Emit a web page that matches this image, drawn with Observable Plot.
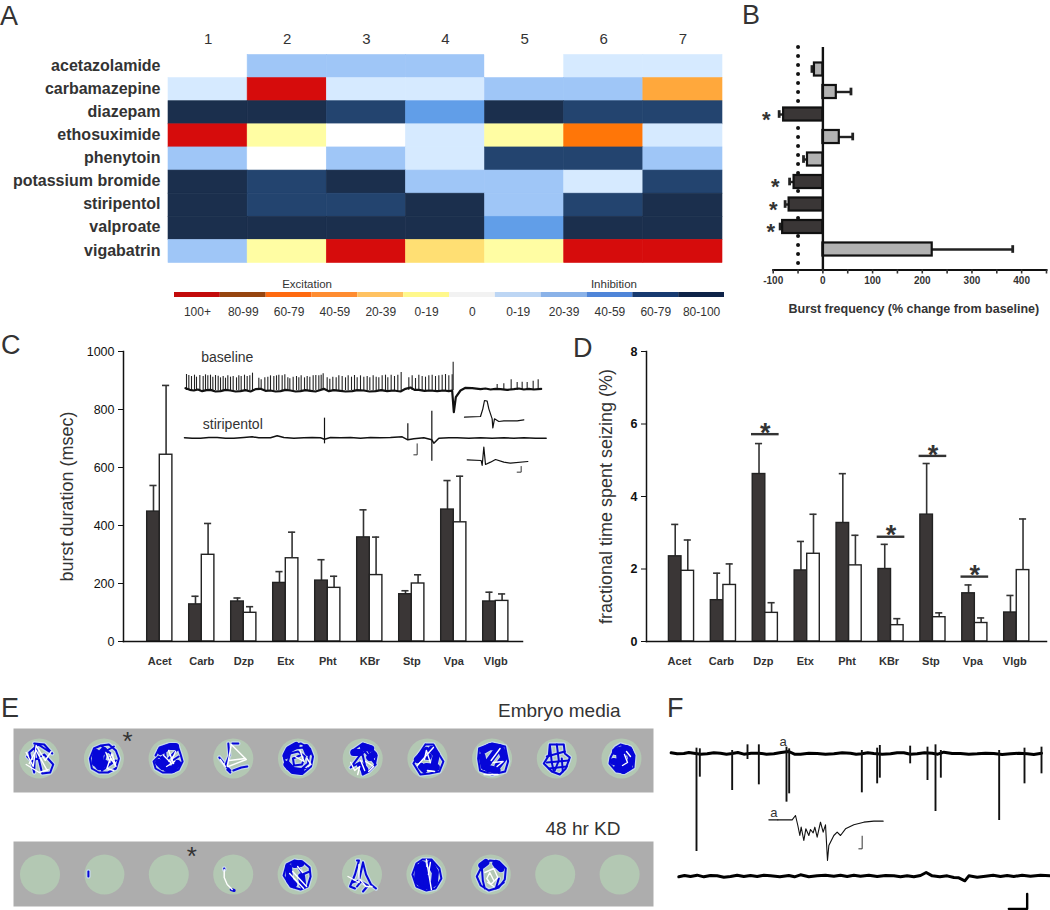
<!DOCTYPE html>
<html><head><meta charset="utf-8">
<script src="https://cdn.jsdelivr.net/npm/d3@7"></script>
<script src="https://cdn.jsdelivr.net/npm/@observablehq/plot@0.6"></script>
<style>
html,body{margin:0;padding:0;background:#fff}
#page{position:relative;width:1050px;height:910px;overflow:hidden;font-family:"Liberation Sans",Arial,sans-serif}
#page svg{position:absolute;max-width:none;background:transparent;overflow:visible}
.letter{position:absolute;font-size:27px;line-height:1;color:#333}
</style></head>
<body><div id="page"></div>
<script>
// ---------- Panel A
const drugs = ["acetazolamide","carbamazepine","diazepam","ethosuximide","phenytoin","potassium bromide","stiripentol","valproate","vigabatrin"];
const columns = [1,2,3,4,5,6,7];
const effectRows = [
 ["0","I20","I20","I20","0","I0","I0"],
 ["I0","E100","I0","I0","I20","I20","E40"],
 ["I80","I80","I60","I40","I80","I60","I60"],
 ["E100","E0","0","I0","E0","E60","I0"],
 ["I20","0","I20","I0","I60","I60","I20"],
 ["I80","I60","I80","I20","I20","I0","I60"],
 ["I80","I60","I60","I80","I20","I60","I80"],
 ["I80","I80","I80","I80","I40","I80","I80"],
 ["I20","E0","E100","E20","E0","E100","E100"]
];
const effectKeys = ["E100","E60","E40","E20","E0","0","I0","I20","I40","I60","I80"];
const effectColors = ["#d60c0c","#ff7608","#ffa83c","#ffdf73","#fffda3","#ffffff","#d6eaff","#9fc6f7","#619ee8","#23446f","#1b2f4d"];
const legendLabels = ["100+","80-99","60-79","40-59","20-39","0-19","0","0-19","20-39","40-59","60-79","80-100"];
const legendColors = ["#c30a0a","#96450f","#ff6a10","#ff8c30","#ffc262","#fff88c","#f2f2f2","#bdd6f4","#8ab2e8","#4f85d8","#173a70","#0e2348"];
// ---------- Panel B
const bRows = drugs;
const bValues = [-17,27,-79,33,-31,-58,-68,-81,220];
const bErrors = [-22,56.5,-88,60,-39,-67,-76,-86,382];
const bSignificant = [false,false,true,false,false,true,true,true,false];
const bStars = [[2,-114],[5,-96],[6,-100],[7,-105]];
// ---------- Panels C, D
const groups = ["Acet","Carb","Dzp","Etx","Pht","KBr","Stp","Vpa","Vlgb"];
const cDark = [448,128,138,202,210,359,163,455,138];
const cDarkErr = [538,156,150,241,282,454,175,555,170];
const cWhite = [644,299,99,287,185,229,200,411,140];
const cWhiteErr = [883,407,120,377,225,360,230,570,164];
const dDark = [2.35,1.14,4.62,1.96,3.27,2.0,3.5,1.33,0.8];
const dDarkErr = [3.23,1.885,5.46,2.76,4.63,2.68,4.91,1.56,1.27];
const dWhite = [1.95,1.56,0.79,2.42,2.10,0.45,0.67,0.51,1.97];
const dWhiteErr = [2.80,2.14,1.07,3.51,2.93,0.63,0.79,0.65,3.38];
const dSig = [[2,5.72],[5,2.89],[6,5.12],[7,1.79]];
// ---------- EEG-like traces (in its trace units)
const cBaseline = "45,143 58,148 70,150 82,147 95,152 108,149 120,148 135,153 150,152 165,148 180,150 195,153 210,152 225,149 240,153 255,146 270,145 285,151 300,150 315,153 330,152 345,148 360,150 375,153 390,152 405,149 420,151 435,153 445,150 460,145 475,152 490,149 510,151 525,153 545,152 560,149 580,150 597,153 615,152 632,149 650,152 670,150 690,153 705,145 720,141 732,148 745,148 762,151 780,150 800,152 820,150 835,152 845,150 850,215 856,170 870,150 885,142 905,143 930,146 945,144 960,147 975,145 990,146 1010,148 1030,146 1045,144 1060,147 1075,145 1090,147 1112,145";
const cSpikes = "48,102 55,105 63,108 72,104 78,110 88,105 98,108 105,103 112,106 120,104 127,110 135,105 143,107 150,112 158,108 165,113 172,106 180,110 188,108 198,112 205,106 212,108 222,104 230,108 238,106 246,98 265,113 272,118 283,112 292,110 300,106 310,108 318,106 325,104 335,106 343,103 352,112 358,115 368,110 378,108 385,112 392,106 402,112 410,108 418,110 428,106 436,105 445,106 452,104 458,100 470,112 478,116 487,110 497,112 505,106 515,108 525,112 533,106 543,110 552,105 560,112 570,106 580,110 590,108 598,112 608,106 617,110 625,112 635,106 645,104 652,112 662,104 672,108 682,104 692,96 715,112 725,106 735,114 745,104 755,108 765,110 775,106 785,104 795,108 805,106 815,104 825,102 835,106 845,103 848,65 980,132 1000,130 1022,118 1040,126 1055,125 1070,126 1088,122 1103,118";
const cStiripentol = "42,292 65,293 90,293 115,291 140,291 165,293 190,293 220,291 245,289 265,292 300,292 320,286 340,291 370,293 400,292 425,291 450,292 462,296 480,291 510,292 540,291 570,293 600,291 630,292 660,291 695,289 712,298 730,295 760,292 784,298 790,308 805,293 835,292 860,292 895,293 930,292 965,293 1000,292 1030,293 1060,292 1095,293 1127,293";
const cStiriSpikes = [[462,233,310],[712,250,300],[784,212,362]];
const cInset1 = "882,230 930,228 937,205 942,180 950,182 955,205 965,235 967,262 972,235 985,243 1000,241 1040,241 1060,238";
const cInset2 = "890,358 932,360 935,375 940,320 945,372 960,365 975,357 1000,365 1020,368 1072,363";
const cScale1 = "740,310 740,343 730,343";
const cScale2 = "1052,378 1052,395 1040,395";
const fTop = "32,202 50,205 70,204 85,201 100,203 120,206 140,205 160,202 180,203 198,206 215,204 232,201 250,206 272,203 295,203 318,206 340,205 362,201 385,198 402,206 420,206 445,203 470,204 495,206 520,205 545,202 570,203 587,206 604,205 622,202 640,204 665,206 690,205 710,202 730,202 750,206 770,205 792,202 815,203 832,206 850,200 875,204 900,204 925,206 950,205 975,203 1000,204 1025,207 1050,205 1075,203 1100,205 1120,207 1143,203";
const fSpikes = [[108,188,498],[118,190,275],[215,195,315],[261,178,222],[295,178,298],[378,185,350],[386,190,325],[604,195,322],[650,188,295],[658,180,278],[749,182,235],[801,185,285],[825,178,378],[841,195,278],[1016,195,405],[1092,188,295],[1143,185,265]];
const fInset = "352,403 395,403 405,390 412,420 418,450 422,425 430,465 436,430 445,450 450,432 458,442 463,425 470,455 480,410 488,440 495,418 501,525 505,480 520,450 530,440 540,450 555,430 580,418 610,410 640,407 668,407";
const fInsetLead = "325,403 352,403";
const fScaleSmall = "605,452 605,490 595,490";
const fBottom = "55,574 72,570 90,573 110,569 130,574 150,570 170,571 190,575 210,573 230,569 250,573 270,570 290,573 310,569 330,571 358,574 385,570 402,574 420,568 445,574 470,571 495,569 520,572 540,569 560,573 580,569 600,572 625,569 650,573 675,570 700,571 720,574 740,571 760,574 780,570 797,561 815,571 838,574 860,571 880,576 895,577 913,586 925,571 950,575 975,572 998,569 1020,573 1040,570 1060,573 1085,569 1110,572 1140,569 1170,571";
const fScaleBig = "1100,625 1100,670 1045,670";
// ---------- Panel E: tracks relative to each well centre
const wellsTop = [
 [1,"blue","-5,-15 5,-14 13,-5 -1,-14 -10,-6 -5,14 -4,-14 3,15 11,14 14,6 5,-4 -7,3 -12,-2"],
 [1,"white","-13,-6 -6,8 -3,-13 6,2 12,-7"],[1,"white","-10,5 -3,-8 8,12"],[1,"white","-13,6 0,14 9,11"],
 [2,"solid","-8,-6 -9,4 -3,8 -4,-4 0,-8"],[2,"solid","-5,8 1,5"],
 [2,"blue","-3,-13 5,-14 12,-8 15,0 12,10 4,14 -5,14 -12,10 -14,0 -10,-10 -3,-13 8,-4 3,6 12,2 -2,12 3,-8 10,-12"],
 [2,"white","6,-2 12,8 8,-5 3,10 10,12"],[2,"white","2,-6 6,4"],
 [3,"solid","-8,-7 -3,-10"],[3,"solid","-10,4 -6,8"],[3,"solid","2,-12 7,-12"],[3,"solid","9,5 4,11 -2,10"],[3,"solid","-5,0 -3,6"],
 [3,"blue","-13,-3 -9,-11 0,-14 9,-13 12,-4 14,3 10,11 3,14 -6,14 -13,10 -15,3 -10,-2 -3,3 5,-5 9,-9 -4,-12 -2,6 10,-2"],
 [3,"white","-5,-3 2,4 7,-7"],[3,"white","0,-8 5,5"],[3,"white","-2,8 6,3"],
 [4,"blue","-5,-15 -4,-3 -8,7 -3,12"],[4,"blue","-1,-15 5,-15"],[4,"blue","-14,-1 -10,4"],[4,"blue","-6,11 -3,14"],[4,"blue","0,12 8,9 14,8"],
 [4,"white","-2,-14 -6,8"],[4,"white","-2,-14 13,1 -5,8"],[4,"white","-4,2 12,0"],[4,"white","-13,1 -8,8"],
 [5,"solid","-12,-3 -9,-9 -2,-13"],[5,"solid","-11,6 -5,12 3,13"],[5,"solid","8,-11 10,-6"],
 [5,"blue","-12,-5 -6,-13 3,-15 12,-10 15,-2 13,8 6,14 -3,14 -11,10 -14,0 -12,-7 -4,-10 6,-11 11,-5 10,5 3,11 -5,10 -10,3 -8,-5 0,-7 7,-2 4,6 -4,7 -5,0 2,-3"],
 [5,"blue","-13,3 -8,11 0,12 9,9"],
 [5,"white","-3,-2 6,3 2,-8"],[5,"white","9,0 13,6 8,9"],
 [6,"solid","1,-12 8,-10"],[6,"solid","-9,-6 -3,-6"],[6,"solid","7,-1 11,-4"],[6,"solid","-2,7 2,11"],
 [6,"blue","-10,-8 0,-15 8,-12 14,-3 12,7 6,13 0,16 -3,4 -12,9 -3,-3 5,-9 13,6 -2,-12 4,14"],
 [6,"white","-12,4 -8,12 -3,8 -5,16"],[6,"white","3,3 11,8 6,13"],[6,"white","-2,2 2,12"],
 [7,"solid","-10,1 -1,-8"],[7,"solid","4,-9 9,-4 7,5"],[7,"solid","-1,8 9,9"],[7,"solid","-6,-3 1,-2"],[7,"solid","-6,8 -3,11"],
 [7,"blue","-2,-14 6,-14 11,-5 16,3 12,13 2,15 -7,16 -14,5 -8,-5 -2,-14"],
 [7,"white","-10,7 6,-11"],[7,"white","-3,1 -1,-8 3,4"],[7,"white","0,12 7,13"],
 [8,"solid","-9,-8 -2,-12 7,-11 -4,4 -8,8 -10,-2"],[8,"solid","6,7 12,-1 9,-9"],[8,"solid","-4,10 5,12"],
 [8,"blue","-13,-10 0,-15 13,-12 16,3 13,13 0,16 -12,12 -14,0 -13,-10"],
 [8,"white","-1,2 8,-10"],[8,"white","1,4 11,3 5,8"],[8,"white","-8,16 6,16"],
 [9,"blue","-7,-14 7,-14 8,-5 13,-1 9,10 3,16 -5,13 -13,5 -8,-3 -7,-14 -5,4 -3,13"],[9,"blue","0,-14 2,2 -2,12"],[9,"blue","8,-7 -10,-2"],[9,"blue","-10,4 12,2"],[9,"blue","5,0 6,13"],[9,"blue","-8,10 10,8"],
 [10,"solid","-6,-7 5,-10 -3,4 -8,3"],[10,"solid","-4,9 2,12 7,9"],[10,"solid","-2,-5 -1,5"],[10,"solid","8,-8 10,0 8,6"],[10,"solid","2,0 4,8"],
 [10,"blue","-1,-14 9,-11 13,-3 12,9 3,14 -5,13 -12,5 -11,-1 -6,-11 -1,-14"],
 [10,"white","3,-4 6,4 1,7"],[10,"white","5,-7 9,-2"]
];
const wellsBottom = [
 [2,"blue","-16,-3 -16,2"],
 [4,"white","-9,-5 -9,3 -6,10 -1,15"],[4,"blue","-9,-6 -9,-5"],[4,"solidthin","-2,15 1,16"],
 [5,"solid","-9,-7 -8,6 -4,10"],[5,"solid","-3,-10 3,-11"],[5,"solid","4,2 5,10"],
 [5,"blue","-3,-14 6,-12 12,-7 13,2 10,12 3,15 -7,12 -14,1 -11,-10 -3,-14 5,0 12,-3"],
 [5,"white","-8,-1 6,14"],[5,"white","-5,-3 9,12"],[5,"white","0,-8 5,-2"],
 [6,"blue","-5,-14 -3,-14 -7,0 -12,12 -7,14"],[6,"blue","1,-12 -3,6 -10,8"],[6,"blue","1,-12 4,0 9,10 14,14"],[6,"blue","-5,12 -1,7 6,11 1,17"],
 [6,"white","-3,-10 -3,8 -14,2"],[6,"white","-2,5 4,12 10,12"],
 [7,"solid","-8,-7 -9,6 -2,12"],[7,"solid","-4,-10 -3,8"],[7,"solid","4,-11 9,-2 8,8 3,12"],[7,"solid","-1,-4 1,10"],
 [7,"blue","-4,-15 5,-15 13,-6 15,4 9,14 0,16 -10,12 -14,0 -10,-11 -4,-15"],
 [7,"white","0,-15 5,15"],[7,"white","4,-12 2,0"],
 [8,"blue","-9,-8 -1,-14 8,-13 15,-6 14,5 8,13 -2,16 -10,11 -14,2 -9,-8 -8,6 -6,14"],[8,"blue","5,-12 12,-4 4,-8"],[8,"blue","8,4 5,14 13,8"],[8,"solid","-9,-9 -5,-12"],[8,"solid","5,-11 10,-6"],
 [8,"white","-6,-2 3,-6 7,3 0,10 -4,4 -1,-2 3,6"],[8,"white","-3,8 3,12"]
];
const chartFont = '"Liberation Sans",Arial,sans-serif';
const ink = "#333";
const page = document.getElementById("page");
const pts = s => s.trim().split(/\s+/).map(p => p.split(",").map(Number));
const poly = (s, o) => Plot.line(pts(s), {x: d => d[0], y: d => d[1], ...o});
function place(svg, left, top) { svg.style.left = left + "px"; svg.style.top = top + "px"; page.appendChild(svg); return svg; }
function letter(t, x, baseline) {
  const e = document.createElement("div"); e.className = "letter"; e.textContent = t;
  e.style.left = x + "px"; e.style.top = (baseline - 22.9) + "px"; page.appendChild(e);
}
const base = {style: {fontFamily: chartFont, background: "transparent", color: ink}};

// Panel A heat map
const cells = drugs.flatMap((d, r) => columns.map((c, j) => ({drug: d, col: c, effect: effectRows[r][j]})));
place(Plot.plot({...base, width: 722, height: 262.5, marginLeft: 168, marginRight: 0, marginTop: 54.5, marginBottom: 0,
  x: {type: "band", domain: columns, padding: 0, round: false, axis: null},
  y: {type: "band", domain: drugs, padding: 0, round: false, axis: null},
  color: {type: "ordinal", domain: effectKeys, range: effectColors},
  marks: [
    Plot.cell(cells, {x: "col", y: "drug", fill: "effect", stroke: "effect", strokeWidth: 0.6, inset: 0}),
    Plot.axisX({anchor: "top", tickSize: 0, tickPadding: 11, fontSize: 15, label: null}),
    Plot.axisY({anchor: "left", tickSize: 0, tickPadding: 8, fontSize: 16, fontWeight: "bold", label: null, dy: -1})
  ]}), 0, 0);

// Panel A colour key
place(Plot.plot({...base, width: 550, height: 50, marginLeft: 0, marginRight: 0, marginTop: 17, marginBottom: 28,
  x: {type: "band", domain: d3.range(12), padding: 0, round: false, axis: null},
  y: {axis: null},
  color: {type: "identity"},
  marks: [
    Plot.cell(legendLabels, {x: (d, i) => i, fill: (d, i) => legendColors[i], inset: 0}),
    Plot.text(legendLabels, {x: (d, i) => i, frameAnchor: "bottom", dy: 18, fontSize: 12, text: d => d}),
    Plot.text(["Excitation"], {x: () => 2, frameAnchor: "top", dy: -13, dx: 18, fontSize: 11.5}),
    Plot.text(["Inhibition"], {x: () => 9, frameAnchor: "top", dy: -13, dx: 4, fontSize: 11.5})
  ]}), 174, 275);

// Panel B
const bData = bRows.map((d, i) => ({i, v: bValues[i], e: bErrors[i], sig: bSignificant[i]}));
place(Plot.plot({...base, width: 310, height: 279.5, marginLeft: 32.7, marginRight: 4, marginTop: 7, marginBottom: 50,
  x: {domain: [-100, 450], axis: null},
  y: {domain: [8.911, -0.978], axis: null},
  marks: [
    Plot.ruleX([-50], {stroke: "#111", strokeWidth: 4, strokeDasharray: "0 9", strokeLinecap: "round"}),
    Plot.ruleY(bData, {y: "i", x1: "v", x2: "e", stroke: "#222", strokeWidth: 2.4}),
    Plot.ruleX(bData, {x: "e", y1: d => d.i - 0.17, y2: d => d.i + 0.17, stroke: "#222", strokeWidth: 2.8}),
    Plot.rectX(bData, {x1: () => 0, x2: "v", y1: d => d.i - 0.29, y2: d => d.i + 0.29, fill: d => d.sig ? "#3a3636" : "#b2b2b2", stroke: "#111", strokeWidth: 2.2}),
    Plot.ruleX([0], {stroke: "#111", strokeWidth: 2.4}),
    Plot.frame({anchor: "bottom", stroke: "#111", strokeWidth: 2}),
    Plot.axisX({ticks: d3.range(-100, 451, 50), tickFormat: d => d % 100 === 0 ? String(d) : "", tickSize: 4, tickPadding: 3, fontSize: 10, fontWeight: "bold", strokeWidth: 1.6, label: null}),
    Plot.text(bStars, {x: d => d[1], y: d => d[0], text: () => "*", fontSize: 22, fontWeight: "bold", dy: 5}),
    Plot.text(["Burst frequency (% change from baseline)"], {frameAnchor: "bottom", dy: 43, dx: 4, fontSize: 12.5, fontWeight: "bold"})
  ]}), 740, 40);

// Grouped bars for C and D
function grouped(o) {
  const half = 0.15;
  const rows = groups.flatMap((g, i) => [
    {i, x1: i - 2 * half, x2: i, mid: i - half, v: o.dark[i], e: o.darkErr[i], fill: "#3a3636"},
    {i, x1: i, x2: i + 2 * half, mid: i + half, v: o.white[i], e: o.whiteErr[i], fill: "#fff"}
  ]);
  return Plot.plot({...base, width: o.width, height: o.height, marginLeft: o.marginLeft, marginRight: 0, marginTop: 11, marginBottom: 30,
    x: {domain: o.xDomain, axis: null},
    y: {domain: o.yDomain, axis: null},
    marks: [
      Plot.ruleX(rows, {x: "mid", y1: "v", y2: "e", stroke: "#333", strokeWidth: 1.6}),
      Plot.ruleY(rows, {y: "e", x1: d => d.mid - 0.085, x2: d => d.mid + 0.085, stroke: "#333", strokeWidth: 1.6}),
      Plot.rectY(rows, {x1: "x1", x2: "x2", y1: () => 0, y2: "v", fill: "fill", stroke: "#222", strokeWidth: 1.4}),
      Plot.frame({anchor: "left", stroke: "#111", strokeWidth: 1.5}),
      Plot.frame({anchor: "bottom", stroke: "#111", strokeWidth: 1.5}),
      Plot.axisY({ticks: o.yTicks, tickFormat: d => String(d), tickSize: 5, tickPadding: 4, fontSize: 12.5, fontWeight: o.tickWeight, label: null, color: "#111"}),
      Plot.text(groups, {x: (d, i) => i, text: d => d, frameAnchor: "bottom", dy: 23, dx: o.labelDx, fontSize: 11, fontWeight: "bold"}),
      Plot.text([o.label], {frameAnchor: "left", textAnchor: "middle", rotate: -90, dx: o.labelX, fontSize: o.labelSize}),
      ...(o.extra || [])
    ]});
}
place(grouped({width: 482, height: 331, marginLeft: 83, xDomain: [-0.864, 8.636], yDomain: [0, 1000], yTicks: [0,200,400,600,800,1000],
  dark: cDark, darkErr: cDarkErr, white: cWhite, whiteErr: cWhiteErr, label: "burst duration (msec)", labelX: -56, labelSize: 18, tickWeight: "normal", labelDx: 0}), 40, 340);
place(grouped({width: 446, height: 331, marginLeft: 46, xDomain: [-0.835, 8.71], yDomain: [0, 8], yTicks: [0,2,4,6,8],
  dark: dDark, darkErr: dDarkErr, white: dWhite, whiteErr: dWhiteErr, label: "fractional time spent seizing (%)", labelX: -40, labelSize: 18, tickWeight: "bold", labelDx: -2,
  extra: [
    Plot.ruleY(dSig, {y: d => d[1], x1: d => d[0] - 0.33, x2: d => d[0] + 0.33, stroke: "#333", strokeWidth: 2.4}),
    Plot.text(dSig, {x: d => d[0], y: d => d[1], text: () => "*", fontSize: 27, fontWeight: "bold", dy: -1})
  ]}), 600, 340);

// Overlaid traces: axes are in the picture's trace units, tripled
function traces(left, top, w, h, marks) {
  place(Plot.plot({...base, width: w, height: h, margin: 0, x: {domain: [0, w * 3], axis: null}, y: {domain: [h * 3, 0], axis: null}, marks}), left, top);
}
const cTops = pts(cSpikes);
traces(170, 340, 390, 150, [
  Plot.ruleX(cTops, {x: d => d[0], y1: d => d[1], y2: () => 150, stroke: "#222", strokeWidth: 1.1}),
  poly(cBaseline, {stroke: "#111", strokeWidth: 2.2}),
  poly(cStiripentol, {stroke: "#111", strokeWidth: 1.5}),
  Plot.ruleX(cStiriSpikes, {x: d => d[0], y1: d => d[1], y2: d => d[2], stroke: "#111", strokeWidth: 1.2}),
  poly(cInset1, {stroke: "#111", strokeWidth: 1.2}),
  poly(cInset2, {stroke: "#111", strokeWidth: 1.2}),
  poly(cScale1, {stroke: "#333", strokeWidth: 1}),
  poly(cScale2, {stroke: "#333", strokeWidth: 1}),
  Plot.text(["baseline"], {x: () => 92, y: () => 52, fontSize: 14, textAnchor: "start"}),
  Plot.text(["stiripentol"], {x: () => 97, y: () => 252, fontSize: 14, textAnchor: "start"})
]);
traces(660, 685, 390, 225, [
  poly(fTop, {stroke: "#000", strokeWidth: 3}),
  Plot.ruleX(fSpikes, {x: d => d[0], y1: d => d[1], y2: d => d[2], stroke: "#111", strokeWidth: 1.9}),
  poly(fInset, {stroke: "#111", strokeWidth: 1.1}),
  poly(fInsetLead, {stroke: "#111", strokeWidth: 1.1}),
  poly(fScaleSmall, {stroke: "#333", strokeWidth: 1}),
  poly(fBottom, {stroke: "#000", strokeWidth: 3}),
  poly(fScaleBig, {stroke: "#000", strokeWidth: 2.4}),
  Plot.text(["a", "a"], {x: (d, i) => [368, 340][i], y: (d, i) => [168, 383][i], fontSize: 13})
]);

// Panel E
function wellStrip(tracks, left, top, width, height, first, step, centreY) {
  const flat = tracks.flatMap(([well, kind, path], id) => pts(path).map(([dx, dy]) => ({id, kind, x: well + dx / step, y: dy})));
  const only = k => flat.filter(d => d.kind === k);
  const line = (k, sw, stroke) => Plot.line(only(k), {x: "x", y: "y", z: "id", stroke, strokeWidth: sw});
  place(Plot.plot({...base, width, height, margin: 0,
    x: {domain: [1 - (first - left) / step, 1 + (left + width - first) / step], axis: null},
    y: {domain: [top + height - centreY, top - centreY], axis: null},
    marks: [
      Plot.frame({fill: "#adadad", stroke: "none"}),
      Plot.dot(d3.range(1, 11), {x: d => d, y: () => 0, r: 20, fill: "#b3c8b3"}),
      line("blue", 4.5, "#c6d8ea"),
      line("solid", 9, "#c6d8ea"),
      line("solid", 7, "#0606d8"),
      line("blue", 2, "#0606d8"),
      line("solidthin", 3, "#0606d8"),
      line("white", 1.4, "#fff")
    ]}), left, top);
}
wellStrip(wellsTop, 13, 728, 640, 64, 38.7, 64.7, 758);
wellStrip(wellsBottom, 13, 841, 640, 65, 39.5, 64.4, 874);
traces(0, 685, 660, 225, [
  Plot.text(["Embryo media"], {x: () => 1860, y: () => 75, fontSize: 19, textAnchor: "end"}),
  Plot.text(["48 hr KD"], {x: () => 1860, y: () => 430, fontSize: 19, textAnchor: "end"}),
  Plot.text(["*", "*"], {x: (d, i) => [381, 574][i], y: (d, i) => [170, 513][i], fontSize: 26})
]);

[["A",0,26],["B",742,25],["C",1,355],["D",573,358],["E",1,718],["F",667,718]].forEach(d => letter(...d));
</script></body></html>
